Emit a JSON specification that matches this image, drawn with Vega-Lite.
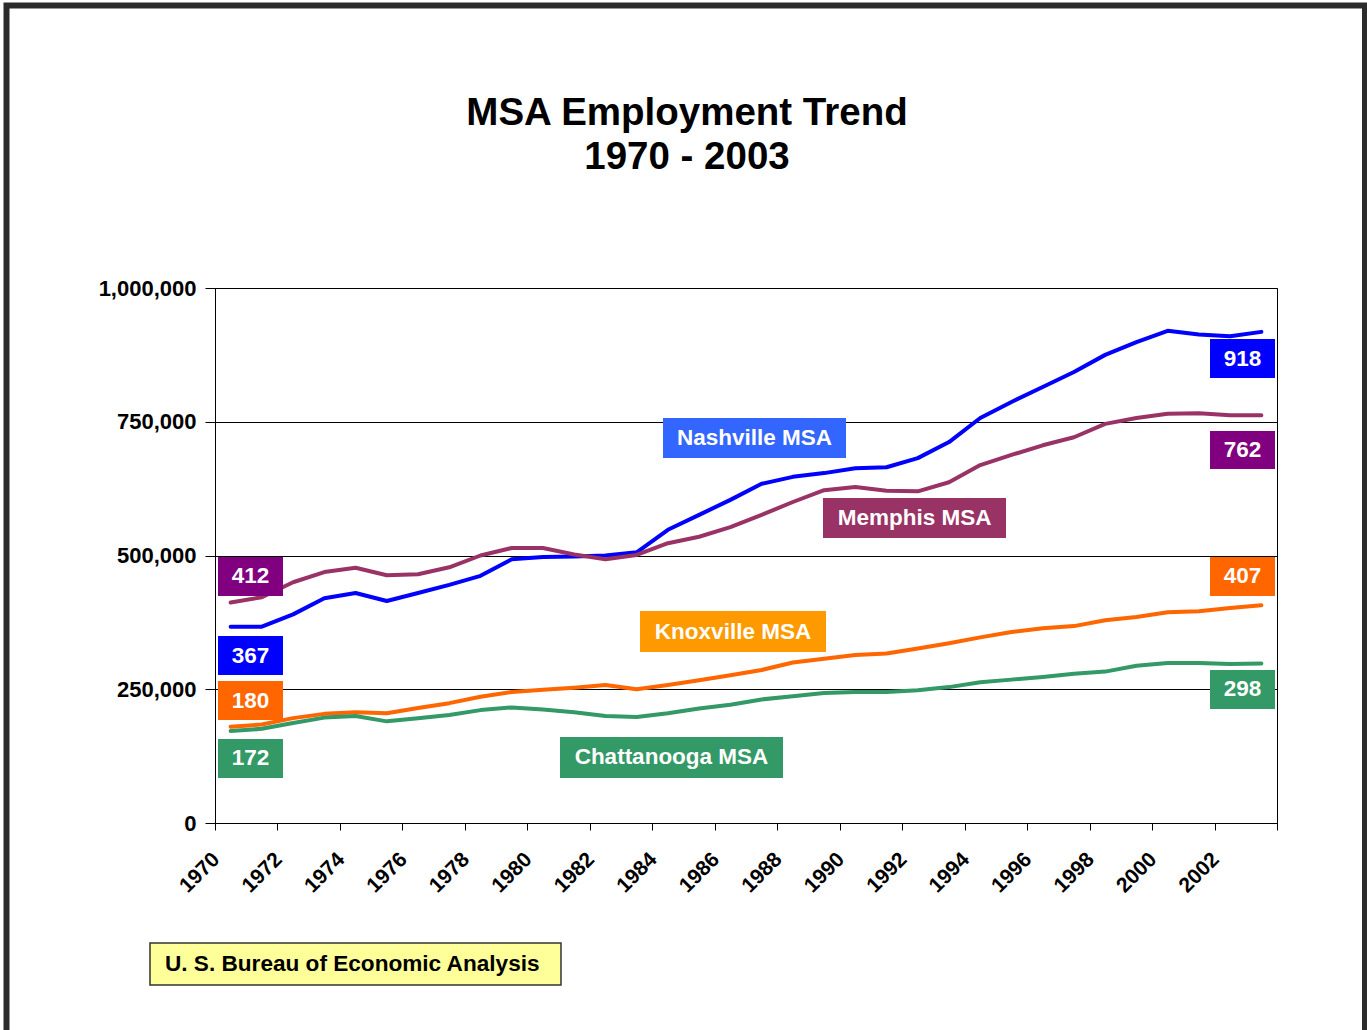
{
  "$schema": "https://vega.github.io/schema/vega-lite/v6.json",
  "width": 1062,
  "height": 535,
  "autosize": {"type": "none"},
  "padding": {"left": 215, "top": 288, "right": 90, "bottom": 207},
  "background": "#ffffff",
  "title": {
    "text": ["MSA Employment Trend", "1970 - 2003"],
    "font": "Liberation Sans",
    "fontSize": 38.5,
    "fontWeight": "bold",
    "color": "#000000",
    "lineHeight": 44,
    "anchor": "middle",
    "baseline": "alphabetic",
    "dx": -59,
    "offset": -205
  },
  "config": {
    "font": "Liberation Sans",
    "view": {"stroke": "#000000", "strokeWidth": 1}
  },
  "datasets": {
    "emp": [
      {"year":1970,"msa":"Nashville MSA","emp":367000},{"year":1971,"msa":"Nashville MSA","emp":367000},{"year":1972,"msa":"Nashville MSA","emp":390000},{"year":1973,"msa":"Nashville MSA","emp":420000},{"year":1974,"msa":"Nashville MSA","emp":430000},{"year":1975,"msa":"Nashville MSA","emp":415000},{"year":1976,"msa":"Nashville MSA","emp":430000},{"year":1977,"msa":"Nashville MSA","emp":445000},{"year":1978,"msa":"Nashville MSA","emp":462000},{"year":1979,"msa":"Nashville MSA","emp":493000},{"year":1980,"msa":"Nashville MSA","emp":497000},{"year":1981,"msa":"Nashville MSA","emp":498000},{"year":1982,"msa":"Nashville MSA","emp":500000},{"year":1983,"msa":"Nashville MSA","emp":506000},{"year":1984,"msa":"Nashville MSA","emp":548000},{"year":1985,"msa":"Nashville MSA","emp":576000},{"year":1986,"msa":"Nashville MSA","emp":604000},{"year":1987,"msa":"Nashville MSA","emp":634000},{"year":1988,"msa":"Nashville MSA","emp":647000},{"year":1989,"msa":"Nashville MSA","emp":654000},{"year":1990,"msa":"Nashville MSA","emp":663000},{"year":1991,"msa":"Nashville MSA","emp":665000},{"year":1992,"msa":"Nashville MSA","emp":682000},{"year":1993,"msa":"Nashville MSA","emp":712000},{"year":1994,"msa":"Nashville MSA","emp":757000},{"year":1995,"msa":"Nashville MSA","emp":787000},{"year":1996,"msa":"Nashville MSA","emp":815000},{"year":1997,"msa":"Nashville MSA","emp":843000},{"year":1998,"msa":"Nashville MSA","emp":875000},{"year":1999,"msa":"Nashville MSA","emp":899000},{"year":2000,"msa":"Nashville MSA","emp":920000},{"year":2001,"msa":"Nashville MSA","emp":913000},{"year":2002,"msa":"Nashville MSA","emp":910000},{"year":2003,"msa":"Nashville MSA","emp":918000},
      {"year":1970,"msa":"Memphis MSA","emp":412000},{"year":1971,"msa":"Memphis MSA","emp":422000},{"year":1972,"msa":"Memphis MSA","emp":450000},{"year":1973,"msa":"Memphis MSA","emp":469000},{"year":1974,"msa":"Memphis MSA","emp":477000},{"year":1975,"msa":"Memphis MSA","emp":463000},{"year":1976,"msa":"Memphis MSA","emp":465000},{"year":1977,"msa":"Memphis MSA","emp":478000},{"year":1978,"msa":"Memphis MSA","emp":500000},{"year":1979,"msa":"Memphis MSA","emp":514000},{"year":1980,"msa":"Memphis MSA","emp":514000},{"year":1981,"msa":"Memphis MSA","emp":502000},{"year":1982,"msa":"Memphis MSA","emp":493000},{"year":1983,"msa":"Memphis MSA","emp":501000},{"year":1984,"msa":"Memphis MSA","emp":523000},{"year":1985,"msa":"Memphis MSA","emp":535000},{"year":1986,"msa":"Memphis MSA","emp":553000},{"year":1987,"msa":"Memphis MSA","emp":576000},{"year":1988,"msa":"Memphis MSA","emp":600000},{"year":1989,"msa":"Memphis MSA","emp":622000},{"year":1990,"msa":"Memphis MSA","emp":628000},{"year":1991,"msa":"Memphis MSA","emp":621000},{"year":1992,"msa":"Memphis MSA","emp":620000},{"year":1993,"msa":"Memphis MSA","emp":637000},{"year":1994,"msa":"Memphis MSA","emp":669000},{"year":1995,"msa":"Memphis MSA","emp":688000},{"year":1996,"msa":"Memphis MSA","emp":706000},{"year":1997,"msa":"Memphis MSA","emp":721000},{"year":1998,"msa":"Memphis MSA","emp":746000},{"year":1999,"msa":"Memphis MSA","emp":757000},{"year":2000,"msa":"Memphis MSA","emp":765000},{"year":2001,"msa":"Memphis MSA","emp":766000},{"year":2002,"msa":"Memphis MSA","emp":762000},{"year":2003,"msa":"Memphis MSA","emp":762000},
      {"year":1970,"msa":"Knoxville MSA","emp":180000},{"year":1971,"msa":"Knoxville MSA","emp":184000},{"year":1972,"msa":"Knoxville MSA","emp":196000},{"year":1973,"msa":"Knoxville MSA","emp":204000},{"year":1974,"msa":"Knoxville MSA","emp":207000},{"year":1975,"msa":"Knoxville MSA","emp":205000},{"year":1976,"msa":"Knoxville MSA","emp":215000},{"year":1977,"msa":"Knoxville MSA","emp":224000},{"year":1978,"msa":"Knoxville MSA","emp":236000},{"year":1979,"msa":"Knoxville MSA","emp":245000},{"year":1980,"msa":"Knoxville MSA","emp":249000},{"year":1981,"msa":"Knoxville MSA","emp":253000},{"year":1982,"msa":"Knoxville MSA","emp":258000},{"year":1983,"msa":"Knoxville MSA","emp":250000},{"year":1984,"msa":"Knoxville MSA","emp":258000},{"year":1985,"msa":"Knoxville MSA","emp":267000},{"year":1986,"msa":"Knoxville MSA","emp":276000},{"year":1987,"msa":"Knoxville MSA","emp":286000},{"year":1988,"msa":"Knoxville MSA","emp":300000},{"year":1989,"msa":"Knoxville MSA","emp":307000},{"year":1990,"msa":"Knoxville MSA","emp":314000},{"year":1991,"msa":"Knoxville MSA","emp":317000},{"year":1992,"msa":"Knoxville MSA","emp":326000},{"year":1993,"msa":"Knoxville MSA","emp":336000},{"year":1994,"msa":"Knoxville MSA","emp":347000},{"year":1995,"msa":"Knoxville MSA","emp":357000},{"year":1996,"msa":"Knoxville MSA","emp":364000},{"year":1997,"msa":"Knoxville MSA","emp":368000},{"year":1998,"msa":"Knoxville MSA","emp":379000},{"year":1999,"msa":"Knoxville MSA","emp":385000},{"year":2000,"msa":"Knoxville MSA","emp":394000},{"year":2001,"msa":"Knoxville MSA","emp":396000},{"year":2002,"msa":"Knoxville MSA","emp":402000},{"year":2003,"msa":"Knoxville MSA","emp":407000},
      {"year":1970,"msa":"Chattanooga MSA","emp":172000},{"year":1971,"msa":"Chattanooga MSA","emp":176000},{"year":1972,"msa":"Chattanooga MSA","emp":187000},{"year":1973,"msa":"Chattanooga MSA","emp":197000},{"year":1974,"msa":"Chattanooga MSA","emp":200000},{"year":1975,"msa":"Chattanooga MSA","emp":190000},{"year":1976,"msa":"Chattanooga MSA","emp":196000},{"year":1977,"msa":"Chattanooga MSA","emp":202000},{"year":1978,"msa":"Chattanooga MSA","emp":211000},{"year":1979,"msa":"Chattanooga MSA","emp":216000},{"year":1980,"msa":"Chattanooga MSA","emp":212000},{"year":1981,"msa":"Chattanooga MSA","emp":207000},{"year":1982,"msa":"Chattanooga MSA","emp":200000},{"year":1983,"msa":"Chattanooga MSA","emp":198000},{"year":1984,"msa":"Chattanooga MSA","emp":205000},{"year":1985,"msa":"Chattanooga MSA","emp":214000},{"year":1986,"msa":"Chattanooga MSA","emp":221000},{"year":1987,"msa":"Chattanooga MSA","emp":231000},{"year":1988,"msa":"Chattanooga MSA","emp":237000},{"year":1989,"msa":"Chattanooga MSA","emp":243000},{"year":1990,"msa":"Chattanooga MSA","emp":245000},{"year":1991,"msa":"Chattanooga MSA","emp":245000},{"year":1992,"msa":"Chattanooga MSA","emp":248000},{"year":1993,"msa":"Chattanooga MSA","emp":254000},{"year":1994,"msa":"Chattanooga MSA","emp":263000},{"year":1995,"msa":"Chattanooga MSA","emp":268000},{"year":1996,"msa":"Chattanooga MSA","emp":273000},{"year":1997,"msa":"Chattanooga MSA","emp":279000},{"year":1998,"msa":"Chattanooga MSA","emp":283000},{"year":1999,"msa":"Chattanooga MSA","emp":294000},{"year":2000,"msa":"Chattanooga MSA","emp":299000},{"year":2001,"msa":"Chattanooga MSA","emp":299000},{"year":2002,"msa":"Chattanooga MSA","emp":297000},{"year":2003,"msa":"Chattanooga MSA","emp":298000}
    ],
    "boxes": [
      {"key":"Memphis value","label":"412","x1":1969.596,"x2":1971.677,"y1":424299,"y2":497196,"tx":1970.637,"ty":460748},
      {"key":"Nashville value","label":"367","x1":1969.596,"x2":1971.677,"y1":276636,"y2":349533,"tx":1970.637,"ty":313084},
      {"key":"Knoxville value","label":"180","x1":1969.596,"x2":1971.677,"y1":192523,"y2":265421,"tx":1970.637,"ty":228972},
      {"key":"Chattanooga value","label":"172","x1":1969.596,"x2":1971.677,"y1":84112,"y2":157009,"tx":1970.637,"ty":120561},
      {"key":"Nashville value","label":"918","x1":2001.355,"x2":2003.436,"y1":831776,"y2":904673,"tx":2002.395,"ty":868224},
      {"key":"Memphis value","label":"762","x1":2001.355,"x2":2003.436,"y1":661682,"y2":732711,"tx":2002.395,"ty":697197},
      {"key":"Knoxville value","label":"407","x1":2001.355,"x2":2003.436,"y1":424299,"y2":497196,"tx":2002.395,"ty":460748},
      {"key":"Chattanooga value","label":"298","x1":2001.355,"x2":2003.436,"y1":213084,"y2":285981,"tx":2002.395,"ty":249533},
      {"key":"Nashville label","label":"Nashville MSA","x1":1983.843,"x2":1989.702,"y1":682243,"y2":757009,"tx":1986.772,"ty":719626},
      {"key":"Memphis label","label":"Memphis MSA","x1":1988.965,"x2":1994.824,"y1":532711,"y2":607477,"tx":1991.895,"ty":570094},
      {"key":"Knoxville label","label":"Knoxville MSA","x1":1983.107,"x2":1989.061,"y1":319626,"y2":396262,"tx":1986.084,"ty":357944},
      {"key":"Chattanooga label","label":"Chattanooga MSA","x1":1980.545,"x2":1987.685,"y1":84112,"y2":160748,"tx":1984.115,"ty":122430}
    ]
  },
  "layer": [
    {
      "data": {"name": "emp"},
      "mark": {"type": "line", "strokeWidth": 4, "strokeJoin": "round", "strokeCap": "round"},
      "encoding": {
        "x": {
          "field": "year", "type": "quantitative", "title": null,
          "scale": {"domain": [1969.5, 2003.5], "nice": false, "zero": false},
          "axis": {
            "values": [1969.5,1970.5,1971.5,1972.5,1973.5,1974.5,1975.5,1976.5,1977.5,1978.5,1979.5,1980.5,1981.5,1982.5,1983.5,1984.5,1985.5,1986.5,1987.5,1988.5,1989.5,1990.5,1991.5,1992.5,1993.5,1994.5,1995.5,1996.5,1997.5,1998.5,1999.5,2000.5,2001.5,2002.5,2003.5],
            "labelExpr": "((datum.value + 0.5) % 2 == 0 && datum.value < 2003) ? format(datum.value + 0.5, 'd') : ''",
            "labelAngle": -45,
            "labelAlign": "right",
            "labelBaseline": "middle",
            "labelOffset": 1,
            "labelPadding": 26,
            "labelOverlap": false,
            "labelFlush": false,
            "labelFont": "Liberation Sans",
            "labelFontSize": 21,
            "labelFontWeight": "bold",
            "labelColor": "#000000",
            "tickSize": 7,
            "tickColor": "#000000",
            "domainColor": "#000000",
            "grid": false
          }
        },
        "y": {
          "field": "emp", "type": "quantitative", "title": null,
          "scale": {"domain": [0, 1000000], "nice": false, "zero": false},
          "axis": {
            "values": [0, 250000, 500000, 750000, 1000000],
            "format": ",d",
            "grid": true,
            "gridColor": "#000000",
            "gridOpacity": 1,
            "gridWidth": 1,
            "labelFont": "Liberation Sans",
            "labelFontSize": 22,
            "labelFontWeight": "bold",
            "labelColor": "#000000",
            "labelPadding": 9,
            "tickSize": 10,
            "tickColor": "#000000",
            "domainColor": "#000000"
          }
        },
        "color": {
          "field": "msa", "type": "nominal", "legend": null,
          "scale": {
            "domain": ["Nashville MSA","Memphis MSA","Knoxville MSA","Chattanooga MSA","Nashville value","Memphis value","Knoxville value","Chattanooga value","Nashville label","Memphis label","Knoxville label","Chattanooga label"],
            "range": ["#0000FF","#993366","#FF6600","#339966","#0000FF","#800080","#FF6600","#339966","#3366FF","#993366","#FF9900","#339966"]
          }
        }
      }
    },
    {
      "data": {"values": [{"x1": 1962.825, "x2": 2006.317, "y1": -394393, "y2": 1528037}]},
      "mark": {"type": "rect", "filled": false, "stroke": "#2b2b2b", "strokeWidth": 6},
      "encoding": {
        "x": {"field": "x1", "type": "quantitative", "title": null, "scale": {"domain": [1969.5, 2003.5], "nice": false, "zero": false}},
        "x2": {"field": "x2"},
        "y": {"field": "y1", "type": "quantitative", "title": null, "scale": {"domain": [0, 1000000], "nice": false, "zero": false}},
        "y2": {"field": "y2"}
      }
    },
    {
      "data": {"values": [{"x1": 1967.419, "x2": 1980.577, "y1": -302804, "y2": -224299, "tx": 1967.899, "ty": -263551, "label": "U. S. Bureau of Economic Analysis"}]},
      "layer": [
        {
          "mark": {"type": "rect", "fill": "#FFFF99", "stroke": "#333333", "strokeWidth": 1.5},
          "encoding": {
            "x": {"field": "x1", "type": "quantitative", "title": null, "scale": {"domain": [1969.5, 2003.5], "nice": false, "zero": false}},
            "x2": {"field": "x2"},
            "y": {"field": "y1", "type": "quantitative", "title": null, "scale": {"domain": [0, 1000000], "nice": false, "zero": false}},
            "y2": {"field": "y2"}
          }
        },
        {
          "mark": {"type": "text", "align": "left", "baseline": "middle", "font": "Liberation Sans", "fontSize": 22.6, "fontWeight": "bold", "fill": "#000000"},
          "encoding": {
            "x": {"field": "tx", "type": "quantitative", "title": null, "scale": {"domain": [1969.5, 2003.5], "nice": false, "zero": false}},
            "y": {"field": "ty", "type": "quantitative", "title": null, "scale": {"domain": [0, 1000000], "nice": false, "zero": false}},
            "text": {"field": "label"}
          }
        }
      ]
    },
    {
      "data": {"name": "boxes"},
      "mark": {"type": "rect"},
      "encoding": {
        "x": {"field": "x1", "type": "quantitative", "title": null, "scale": {"domain": [1969.5, 2003.5], "nice": false, "zero": false}},
        "x2": {"field": "x2"},
        "y": {"field": "y1", "type": "quantitative", "title": null, "scale": {"domain": [0, 1000000], "nice": false, "zero": false}},
        "y2": {"field": "y2"},
        "color": {"field": "key", "type": "nominal", "legend": null}
      }
    },
    {
      "data": {"name": "boxes"},
      "mark": {"type": "text", "align": "center", "baseline": "middle", "font": "Liberation Sans", "fontSize": 22.5, "fontWeight": "bold", "fill": "#ffffff"},
      "encoding": {
        "x": {"field": "tx", "type": "quantitative", "title": null, "scale": {"domain": [1969.5, 2003.5], "nice": false, "zero": false}},
        "y": {"field": "ty", "type": "quantitative", "title": null, "scale": {"domain": [0, 1000000], "nice": false, "zero": false}},
        "text": {"field": "label"}
      }
    }
  ]
}
